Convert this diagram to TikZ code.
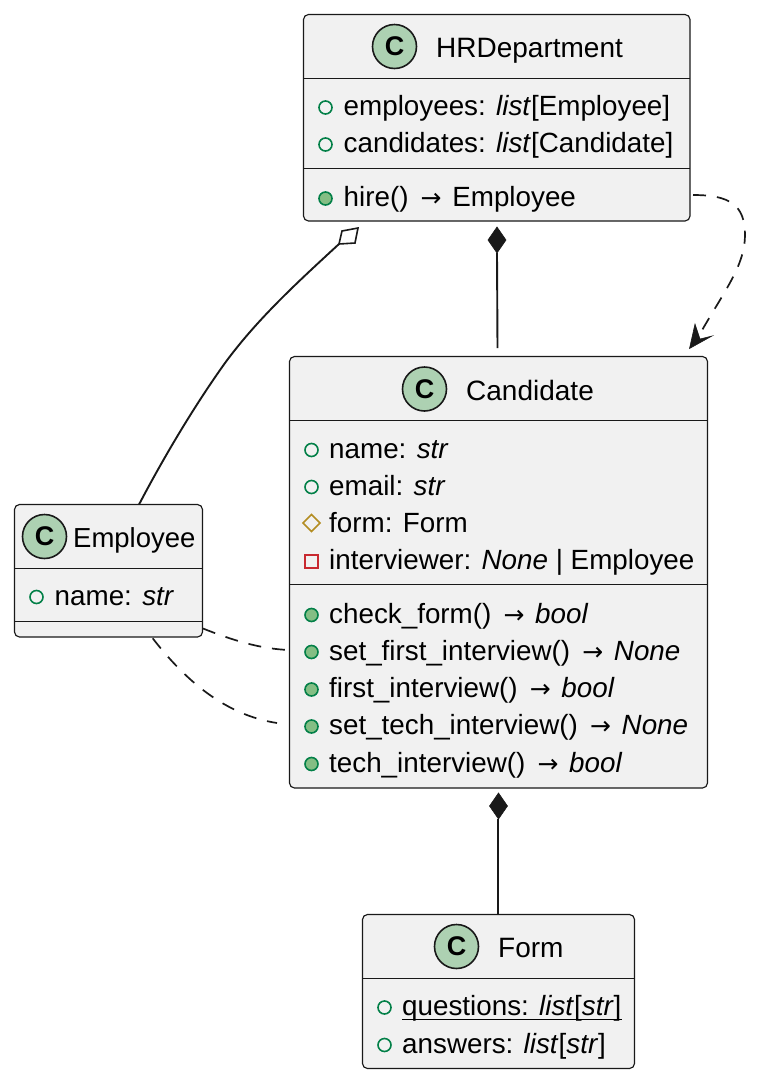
\documentclass[tikz,border=0pt]{standalone}
\usepackage{fontspec}
\usetikzlibrary{shapes.geometric}
\setmainfont{Liberation Sans}
\newfontfamily\arrfont{DejaVu Sans}
\newcommand{\arr}{\makebox[28.3pt]{\kern1.5pt\fontsize{25}{25}\selectfont\arrfont →}}
\begin{document}
\begin{tikzpicture}[x=1pt,y=-1pt,
  cls/.style={draw=black!90,line width=1.15pt,fill=boxbg,rounded corners=5pt,inner sep=0pt,outer sep=0pt,anchor=north west},
  sepl/.style={draw=black!90,line width=1.15pt},
  badge/.style={circle,draw=black!90,line width=1.6pt,fill=badgebg,minimum size=44pt,inner sep=0pt,outer sep=0pt,font=\fontsize{27}{27}\selectfont\bfseries},
  title/.style={anchor=base west,inner sep=0pt,font=\fontsize{28}{30}\selectfont,text=black},
  row/.style={anchor=base west,inner sep=0pt,font=\fontsize{27.8}{30}\selectfont,text=black},
  pubf/.style={circle,draw=visgreen,line width=1.6pt,minimum size=13pt,inner sep=0pt,outer sep=0pt},
  pubm/.style={circle,draw=visgreen,fill=visfill,line width=1.6pt,minimum size=13pt,inner sep=0pt,outer sep=0pt},
  prot/.style={diamond,draw=visgold,line width=1.6pt,minimum size=17pt,inner sep=0pt,outer sep=0pt},
  priv/.style={rectangle,draw=visred,line width=1.6pt,minimum size=13pt,inner sep=0pt,outer sep=0pt},
  conn/.style={draw=black!90,line width=1.9pt},
  dashc/.style={draw=black!90,line width=1.7pt,dash pattern=on 13pt off 11pt},
  tipf/.style={fill=black!90,draw=black!90,line width=.6pt,line join=miter},
]
\definecolor{boxbg}{HTML}{F1F1F1}
\definecolor{badgebg}{HTML}{ADD1B2}
\definecolor{visgreen}{HTML}{038048}
\definecolor{visfill}{HTML}{84BE84}
\definecolor{visgold}{HTML}{B38D22}
\definecolor{visred}{HTML}{C82930}
\useasboundingbox (0,0) rectangle (783,1080);

% HRDepartment
\node[cls,minimum width=386.5pt,minimum height=206.5pt] (hr) at (303.5,14.5) {};
\draw[sepl] (hr.west |- 0,78.5) -- (hr.east |- 0,78.5);
\draw[sepl] (hr.west |- 0,168.5) -- (hr.east |- 0,168.5);
\node[badge] (hrc) at (394.5,46.5) {C};
\node[title] (hrt) at (436,57) {HRDepartment};
\node[pubf] (hrm1) at (325.5,107.5) {};
\node[row] (hr1) at (343.5,115.5) {employees: \textit{list}[Employee]};
\node[pubf] (hrm2) at (325.5,144.5) {};
\node[row] (hr2) at (343.5,152.5) {candidates: \textit{list}[Candidate]};
\node[pubm] (hrm3) at (325.5,198.5) {};
\node[row] (hr3) at (343.5,206.5) {hire() \arr{} Employee};

% Candidate
\node[cls,minimum width=418pt,minimum height=431.5pt] (cand) at (289.5,356.5) {};
\draw[sepl] (cand.west |- 0,420.5) -- (cand.east |- 0,420.5);
\draw[sepl] (cand.west |- 0,584.5) -- (cand.east |- 0,584.5);
\node[badge] (candc) at (424.5,389) {C};
\node[title] (candt) at (466,400) {Candidate};
\node[pubf] (cm1) at (311.5,450) {};
\node[row] (c1) at (329,458) {name: \textit{str}};
\node[pubf] (cm2) at (311.5,487) {};
\node[row] (c2) at (329,495) {email: \textit{str}};
\node[prot] (cm3) at (311.5,523) {};
\node[row] (c3) at (329,532) {form: Form};
\node[priv] (cm4) at (311.5,561.5) {};
\node[row] (c4) at (329,569.5) {interviewer: \textit{None} | Employee};
\node[pubm] (cm5) at (311.5,615) {};
\node[row] (c5) at (329,623) {check\_form() \arr{} \textit{bool}};
\node[pubm] (cm6) at (311.5,652) {};
\node[row] (c6) at (329,660) {set\_first\_interview() \arr{} \textit{None}};
\node[pubm] (cm7) at (311.5,689.5) {};
\node[row] (c7) at (329,697.5) {first\_interview() \arr{} \textit{bool}};
\node[pubm] (cm8) at (311.5,726.5) {};
\node[row] (c8) at (329,734.5) {set\_tech\_interview() \arr{} \textit{None}};
\node[pubm] (cm9) at (311.5,764) {};
\node[row] (c9) at (329,772) {tech\_interview() \arr{} \textit{bool}};

% Employee
\node[cls,minimum width=188pt,minimum height=132.5pt] (emp) at (14.5,504.5) {};
\draw[sepl] (emp.west |- 0,568.5) -- (emp.east |- 0,568.5);
\draw[sepl] (emp.west |- 0,621.5) -- (emp.east |- 0,621.5);
\node[badge] (empc) at (44.5,536.5) {C};
\node[title,font=\fontsize{27.5}{30}\selectfont] (empt) at (73,547) {Employee};
\node[pubf] (em1) at (36.5,597) {};
\node[row] (e1) at (54.5,605) {name: \textit{str}};

% Form
\node[cls,minimum width=272pt,minimum height=154pt] (form) at (362.5,914.5) {};
\draw[sepl] (form.west |- 0,978.5) -- (form.east |- 0,978.5);
\node[badge] (formc) at (456.5,946.5) {C};
\node[title] (formt) at (498,957) {Form};
\node[pubf] (fm1) at (384.5,1007.5) {};
\node[row] (f1) at (402,1015.5) {questions: \textit{list}[\textit{str}]};
\draw[line width=1.4pt,draw=black] ([yshift=-3.8pt]f1.base west) -- ([yshift=-3.8pt]f1.base east);
\node[pubf] (fm2) at (384.5,1045) {};
\node[row] (f2) at (402,1053) {answers: \textit{list}[\textit{str}]};

% HRDepartment -- Candidate (composition)
\coordinate (d1) at (497,253);
\coordinate (e1end) at (497.5,348);
\fill[tipf] (497,227) -- (506,240) -- (d1) -- (488,240) -- cycle;
\draw[conn] (d1) -- (e1end);

% Candidate -- Form (composition)
\coordinate (d2) at (498,819);
\fill[tipf] (498.5,793) -- (507.5,806) -- (498.5,819) -- (489.5,806) -- cycle;
\draw[conn] (d2) -- (form.north -| d2);

% HRDepartment -- Employee (aggregation)
\coordinate (d3) at (339,244);
\draw[draw=black!90,line width=1.6pt,fill=white,line join=miter] (358,228) -- (355,243) -- (d3) -- (342,231) -- cycle;
\draw[conn] (d3) .. controls (300,280) and (258,318) .. (225,363)
  .. controls (195,405) and (165,455) .. (139,504.5);

% HRDepartment ..> Candidate
\coordinate (a1) at (693,195);
\coordinate (a2) at (701,332);
\draw[dashc] (a1) .. controls (730,195) and (745,205) .. (745,235)
  .. controls (745,265) and (725,290) .. (a2);
\fill[tipf] (689.5,348.5) -- (695,324) -- (700,339) -- (712,336) -- cycle;

% Employee -- Candidate (dashed)
\coordinate (b1) at (203,628.5);
\coordinate (b2) at (289.5,650);
\draw[dashc] (b1) .. controls (232,640) and (260,649) .. (b2);
\coordinate (g1) at (152.7,638.3);
\coordinate (g2) at (277,723);
\draw[dashc] (g1) .. controls (185,680) and (225,715) .. (g2);
\end{tikzpicture}
\end{document}
